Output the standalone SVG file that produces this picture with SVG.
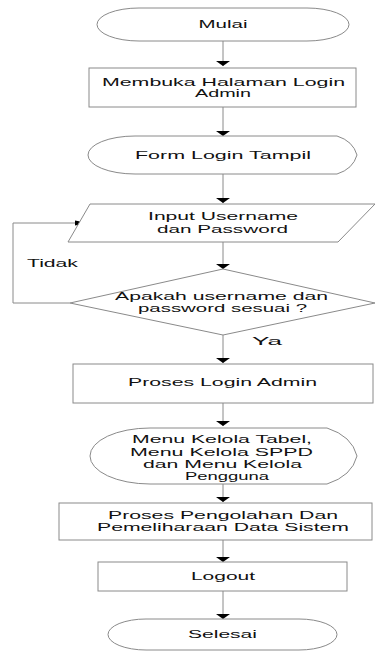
<svg xmlns="http://www.w3.org/2000/svg" width="379" height="651" viewBox="0 0 379 651">
<style>
.s{fill:#fff;stroke:#8a8a8a;stroke-width:1}
.c{fill:none;stroke:#8a8a8a;stroke-width:1}
text{font-family:"Liberation Sans",Arial,sans-serif;font-size:10.5px;fill:#111;text-anchor:middle}
text.l{text-anchor:start}
</style>
<defs>
<marker id="av" markerUnits="userSpaceOnUse" markerWidth="6" markerHeight="14" viewBox="0 -7 6 14" refX="5" refY="0" orient="auto"><path d="M0,-7 L5,0 L0,7 Z" fill="#000"/></marker>
<marker id="ah" markerUnits="userSpaceOnUse" markerWidth="14" markerHeight="6" viewBox="0 -3 14 6" refX="13" refY="0" orient="auto"><path d="M0,-2.6 L13,0 L0,2.6 Z" fill="#000"/></marker>
</defs>
<rect width="379" height="651" fill="#fff"/>
<g id="connectors">
<line class="c" x1="223" y1="41" x2="223" y2="66" marker-end="url(#av)"/>
<line class="c" x1="223" y1="107" x2="223" y2="136" marker-end="url(#av)"/>
<line class="c" x1="223" y1="174" x2="223" y2="203" marker-end="url(#av)"/>
<line class="c" x1="223" y1="242" x2="223" y2="269" marker-end="url(#av)"/>
<line class="c" x1="223" y1="335" x2="223" y2="363" marker-end="url(#av)"/>
<line class="c" x1="223" y1="403" x2="223" y2="426" marker-end="url(#av)"/>
<line class="c" x1="223" y1="484" x2="223" y2="502" marker-end="url(#av)"/>
<line class="c" x1="223" y1="540" x2="223" y2="562" marker-end="url(#av)"/>
<line class="c" x1="223" y1="591" x2="223" y2="619" marker-end="url(#av)"/>
<polyline class="c" points="70,303 13,303 13,223 88,223" marker-end="url(#ah)"/>
<text class="l" transform="translate(27,267) scale(1.8,1)" textLength="28.3" lengthAdjust="spacingAndGlyphs">Tidak</text>
<text class="l" transform="translate(252,345) scale(1.8,1)" textLength="16.7" lengthAdjust="spacingAndGlyphs">Ya</text>
</g>
<g id="mulai">
<rect class="s" x="97" y="8" width="252" height="33" rx="42" ry="16.5"/>
<text transform="translate(223,28) scale(1.8,1)" textLength="27.2" lengthAdjust="spacingAndGlyphs">Mulai</text>
</g>
<g id="membuka">
<rect class="s" x="89" y="68" width="267" height="39"/>
<text transform="translate(223.5,85.5) scale(1.8,1)" textLength="135" lengthAdjust="spacingAndGlyphs">Membuka Halaman Login</text>
<text transform="translate(223,97) scale(1.8,1)" textLength="31.1" lengthAdjust="spacingAndGlyphs">Admin</text>
</g>
<g id="form">
<path class="s" d="M135,136 L337,136 Q353,141 357,155 Q353,169 337,174 L135,174 A47,19 0 0 1 135,136 Z"/>
<text transform="translate(223,159) scale(1.8,1)" textLength="97.8" lengthAdjust="spacingAndGlyphs">Form Login Tampil</text>
</g>
<g id="input">
<polygon class="s" points="90,204 375,204 338,242 68,242"/>
<text transform="translate(223,220) scale(1.8,1)" textLength="83.3" lengthAdjust="spacingAndGlyphs">Input Username</text>
<text transform="translate(222.5,233) scale(1.8,1)" textLength="72.8" lengthAdjust="spacingAndGlyphs">dan Password</text>
</g>
<g id="decision">
<polygon class="s" points="223,269 375,303 223,335 70,303"/>
<text transform="translate(221.5,299.5) scale(1.8,1)" textLength="118.3" lengthAdjust="spacingAndGlyphs">Apakah username dan</text>
<text transform="translate(222.5,311.5) scale(1.8,1)" textLength="93.9" lengthAdjust="spacingAndGlyphs">password sesuai ?</text>
</g>
<g id="proses-login">
<rect class="s" x="73" y="364" width="300" height="39"/>
<text transform="translate(222.5,386) scale(1.8,1)" textLength="105" lengthAdjust="spacingAndGlyphs">Proses Login Admin</text>
</g>
<g id="menu">
<path class="s" d="M150,428 L327,428 Q352,436 357,456 Q352,476 327,484 L150,484 A60,28 0 0 1 150,428 Z"/>
<text transform="translate(222,443) scale(1.8,1)" textLength="100" lengthAdjust="spacingAndGlyphs">Menu Kelola Tabel,</text>
<text transform="translate(221.5,455.5) scale(1.8,1)" textLength="101.7" lengthAdjust="spacingAndGlyphs">Menu Kelola SPPD</text>
<text transform="translate(222.5,468) scale(1.8,1)" textLength="88.3" lengthAdjust="spacingAndGlyphs">dan Menu Kelola</text>
<text transform="translate(227,480) scale(1.8,1)" textLength="46.7" lengthAdjust="spacingAndGlyphs">Pengguna</text>
</g>
<g id="pengolahan">
<rect class="s" x="59" y="503" width="313" height="37"/>
<text transform="translate(223,519) scale(1.8,1)" textLength="127.8" lengthAdjust="spacingAndGlyphs">Proses Pengolahan Dan</text>
<text transform="translate(223,531) scale(1.8,1)" textLength="140" lengthAdjust="spacingAndGlyphs">Pemeliharaan Data Sistem</text>
</g>
<g id="logout">
<rect class="s" x="98" y="562" width="249" height="29"/>
<text transform="translate(223,580) scale(1.8,1)" textLength="35.6" lengthAdjust="spacingAndGlyphs">Logout</text>
</g>
<g id="selesai">
<rect class="s" x="108" y="619" width="229" height="31" rx="38" ry="15.5"/>
<text transform="translate(222.5,638) scale(1.8,1)" textLength="38.3" lengthAdjust="spacingAndGlyphs">Selesai</text>
</g>
</svg>
